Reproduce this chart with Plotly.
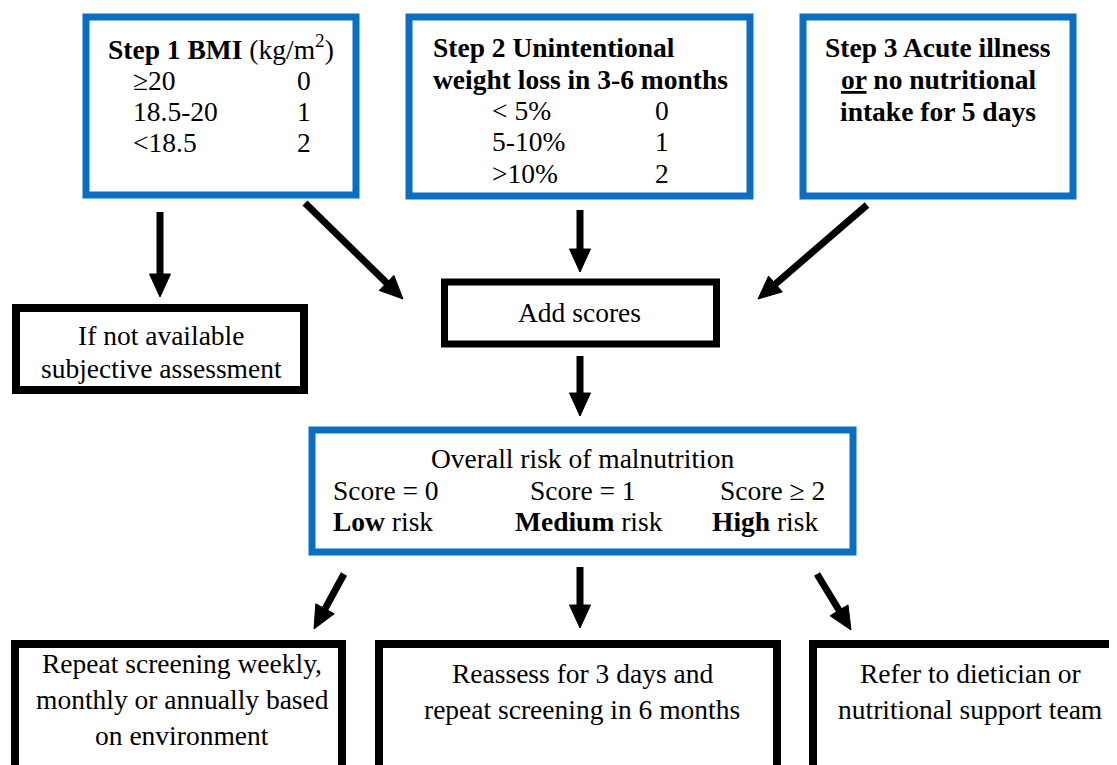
import numpy as np
import plotly.graph_objects as go

# ---------------- data (texts of the flowchart) ----------------
step1_title = "<b>Step 1 BMI</b> (kg/m<sup>2</sup>)"
step1_ranges = ["\u226520", "18.5-20", "<18.5"]
step1_scores = ["0", "1", "2"]

step2_title = ["<b>Step 2 Unintentional</b>", "<b>weight loss in 3-6 months</b>"]
step2_ranges = ["< 5%", "5-10%", ">10%"]
step2_scores = ["0", "1", "2"]

step3_lines = ["<b>Step 3 Acute illness</b>", "<b><u>or</u> no nutritional</b>", "<b>intake for 5 days</b>"]

left_lines = ["If not available", "subjective assessment"]
add_text = "Add scores"

overall_title = "Overall risk of malnutrition"
risk_scores = ["Score = 0", "Score = 1", "Score \u2265 2"]
risk_levels = ["<b>Low</b> risk", "<b>Medium</b> risk", "<b>High</b> risk"]

outcome_lines = [
    ["Repeat screening weekly,", "monthly or annually based", "on environment"],
    ["Reassess for 3 days and", "repeat screening in 6 months"],
    ["Refer to dietician or", "nutritional support team"],
]

# ---------------- layout constants ----------------
W, H = 1117, 765
OFF = 8  # page body margin compensation
BLUE = "#0a6fc2"
FONT = "Liberation Serif"
FS = 27.5

fig = go.Figure()

def rect(x0, y0, x1, y1, color, width):
    fig.add_shape(type="rect", xref="x", yref="y", x0=x0, y0=y0, x1=x1, y1=y1,
                  line=dict(color=color, width=width), fillcolor="rgba(0,0,0,0)")

def txt(x, y, s, size=FS, xanchor="center"):
    fig.add_annotation(x=x, y=y, xref="x", yref="y", text=s, showarrow=False,
                       xanchor=xanchor, yanchor="middle",
                       font=dict(family=FONT, size=size, color="black"))

HEAD_L, HEAD_W, LW = 23, 10.5, 7

def arrow(x0, y0, x1, y1):
    p0 = np.array([x0, y0], float)
    p1 = np.array([x1, y1], float)
    d = (p1 - p0) / np.linalg.norm(p1 - p0)
    n = np.array([-d[1], d[0]])
    base = p1 - d * HEAD_L
    fig.add_shape(type="line", xref="x", yref="y", x0=p0[0], y0=p0[1],
                  x1=base[0] + d[0] * 2, y1=base[1] + d[1] * 2,
                  line=dict(color="black", width=LW))
    a = base + n * HEAD_W
    b = base - n * HEAD_W
    path = f"M {p1[0]},{p1[1]} L {a[0]},{a[1]} L {b[0]},{b[1]} Z"
    fig.add_shape(type="path", xref="x", yref="y", path=path,
                  fillcolor="black", line=dict(color="black", width=1))

# boxes (blue)
rect(86, 17, 356, 195, BLUE, 7)
rect(409, 17, 750, 196, BLUE, 7)
rect(803, 17, 1073, 196, BLUE, 7)
rect(312, 430, 853, 552, BLUE, 7)
# boxes (black)
rect(16, 308, 304, 390, "black", 8)
rect(444.5, 282, 716.5, 344, "black", 7)
rect(15, 644, 342, 800, "black", 8)
rect(379, 644, 777, 800, "black", 8)
rect(813, 644, 1125, 800, "black", 8)

# Step 1
txt(106, 47, step1_title, FS, "left")
for i, (r, s) in enumerate(zip(step1_ranges, step1_scores)):
    y = 80 + i * 31
    txt(131, y, r, FS, "left")
    txt(304, y, s, FS, "center")

# Step 2
for i, s in enumerate(step2_title):
    txt(431, 47 + i * 32, s, FS, "left")
for i, (r, s) in enumerate(zip(step2_ranges, step2_scores)):
    y = 110 + i * 31.5
    txt(490, y, r, FS, "left")
    txt(662, y, s, FS, "center")

# Step 3
for i, s in enumerate(step3_lines):
    txt(938, 47 + i * 32, s, FS, "center")

# left box
for i, s in enumerate(left_lines):
    txt(161, 335 + i * 33, s, FS, "center")

# add scores
txt(579, 312, add_text, FS, "center")

# overall
txt(582, 458, overall_title, FS, "center")
score_x = [(331, "left"), (583, "center"), (827, "right")]
level_x = [(331, "left"), (589, "center"), (820, "right")]
for (x, a), s in zip(score_x, risk_scores):
    txt(x, 490, s, FS, a)
for (x, a), s in zip(level_x, risk_levels):
    txt(x, 521, s, FS, a)

# outcomes
centers = [(182, 663), (582, 673), (970, 673)]
for (cx, y0), lines in zip(centers, outcome_lines):
    for i, s in enumerate(lines):
        txt(cx, y0 + i * 36, s, FS, "center")

# arrows
arrow(160, 212, 160, 297)
arrow(305, 203, 403, 299)
arrow(580, 210, 580, 272)
arrow(867, 205, 758, 299)
arrow(580, 356, 580, 416)
arrow(344, 574, 314, 629)
arrow(580, 567, 580, 628)
arrow(817, 574, 851, 630)

fig.update_layout(
    width=W, height=H, margin=dict(l=0, r=0, t=0, b=0),
    paper_bgcolor="white", plot_bgcolor="white", showlegend=False,
    xaxis=dict(range=[OFF, W + OFF], visible=False, fixedrange=True),
    yaxis=dict(range=[H + OFF, OFF], visible=False, fixedrange=True),
)

fig.write_html("out.html")
